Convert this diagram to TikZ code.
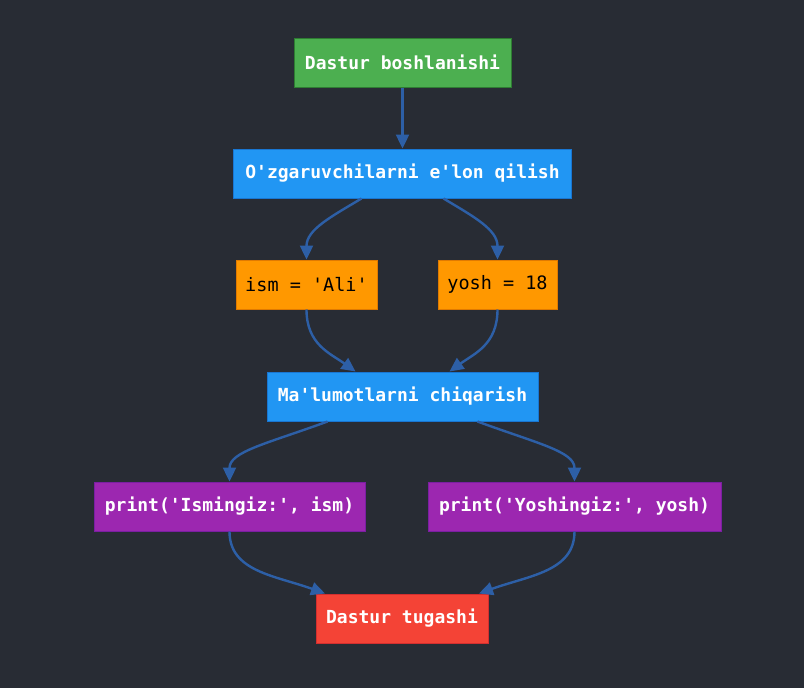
\documentclass[tikz,border=0pt]{standalone}
\usepackage{fontspec}
\setmonofont{DejaVu Sans Mono}
\usetikzlibrary{arrows.meta,calc}
\definecolor{bg}{HTML}{282C34}
\definecolor{edge}{HTML}{2D5FA6}
\definecolor{gfill}{HTML}{4CAF50}\definecolor{gline}{HTML}{2E7D32}
\definecolor{bfill}{HTML}{2196F3}\definecolor{bline}{HTML}{1976D2}
\definecolor{ofill}{HTML}{FF9800}\definecolor{oline}{HTML}{E07A00}
\definecolor{pfill}{HTML}{9C27B0}\definecolor{pline}{HTML}{7B1FA2}
\definecolor{rfill}{HTML}{F44336}\definecolor{rline}{HTML}{D32F2F}
\tikzset{
  box/.style={rectangle, line width=1pt, inner sep=0pt, minimum height=49pt, font=\ttfamily\bfseries\fontsize{18}{20}\selectfont, text=white},
  gbox/.style={box, fill=gfill, draw=gline},
  bbox/.style={box, fill=bfill, draw=bline},
  obox/.style={box, fill=ofill, draw=oline, text=black, font=\ttfamily\fontsize{18.5}{20}\selectfont},
  pbox/.style={box, fill=pfill, draw=pline},
  rbox/.style={box, fill=rfill, draw=rline},
  conn/.style={draw=edge, line width=2.4pt, -{Triangle[length=14pt,width=13pt]}}
}
\begin{document}
\begin{tikzpicture}[x=1pt,y=-1pt]
\fill[bg] (0,0) rectangle (804,688);
\useasboundingbox (0,0) rectangle (804,688);
\node[gbox, minimum width=217pt] (start) at (402.5,62.5) {Dastur boshlanishi};
\node[bbox, minimum width=338pt] (decl) at (402.5,173.5) {O'zgaruvchilarni e'lon qilish};
\node[obox, minimum width=141pt] (ism) at (306.5,284.5) {ism = 'Ali'};
\node[obox, minimum width=119pt] (yosh) at (497.5,284.5) {yosh = 18};
\node[bbox, minimum width=271pt] (out) at (402.5,396.5) {Ma'lumotlarni chiqarish};
\node[pbox, minimum width=271pt] (pism) at (229.5,506.5) {print('Ismingiz:', ism)};
\node[pbox, minimum width=293pt] (pyosh) at (574.5,506.5) {print('Yoshingiz:', yosh)};
\node[rbox, minimum width=172pt] (end) at (402,618.5) {Dastur tugashi};

\draw[conn] (start.south) -- (decl.north);
\draw[conn] ([xshift=-41pt]decl.south) .. controls ++(-30,18) and ++(0,-30) .. (ism.north);
\draw[conn] ([xshift=41pt]decl.south) .. controls ++(30,18) and ++(0,-30) .. (yosh.north);
\draw[conn] (ism.south) .. controls ++(0,35) and ++(-25,-18) .. ([xshift=-47pt]out.north);
\draw[conn] (yosh.south) .. controls ++(0,35) and ++(25,-18) .. ([xshift=47pt]out.north);
\draw[conn] ([xshift=-75pt]out.south) .. controls ++(-60,22) and ++(0,-30) .. (pism.north);
\draw[conn] ([xshift=75pt]out.south) .. controls ++(60,22) and ++(0,-30) .. (pyosh.north);
\draw[conn] (pism.south) .. controls ++(0,40) and ++(-50,-18) .. ([xshift=-77pt]end.north);
\draw[conn] (pyosh.south) .. controls ++(0,40) and ++(50,-18) .. ([xshift=77pt]end.north);
\end{tikzpicture}
\end{document}
